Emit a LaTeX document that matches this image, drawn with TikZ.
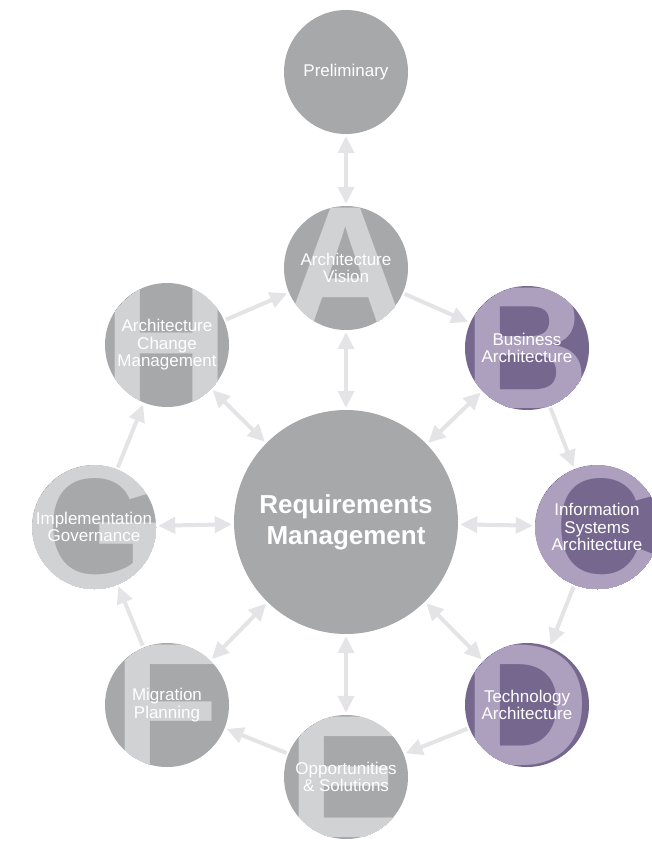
\documentclass[tikz,border=0pt]{standalone}
\usepackage{fontspec}
\setmainfont{Liberation Sans}
\usetikzlibrary{arrows.meta}
\definecolor{dGray}{HTML}{A7A8AA}
\definecolor{lGray}{HTML}{D1D2D4}
\definecolor{dPurple}{HTML}{76678F}
\definecolor{lPurple}{HTML}{ACA0BE}
\definecolor{aGray}{HTML}{E4E4E6}
\tikzset{
    disc/.style={
            circle,
            fill={#1},
            inner sep=0pt, % no inside-rectangle
            minimum size=124pt
        },
    disc/.default={dGray},
    bigletter/.style={
            text={#1},
            inner sep=0pt,
            font=\fontsize{175}{175}\selectfont\bfseries
        },
    bigletter/.default={lGray},
    phasetext/.style={
            text=white,
            align=center,
            inner sep=0pt,
            font=\fontsize{17}{17.5}\selectfont
        },
    hub/.style={
            circle,
            fill=dGray,
            inner sep=0pt,
            minimum size=224pt,
            text=white,
            align=center,
            font=\fontsize{26}{31}\selectfont\bfseries
        },
    link/.style={
            draw=aGray,
            line width=4pt,
            shorten >=2pt,
            shorten <=2pt,
            -{Triangle[length=17pt,width=16pt]}
        },
    both/.style={
            link,
            {Triangle[length=17pt,width=16pt]}-{Triangle[length=17pt,width=16pt]}
        }
}
% name, position, fill, letter colour, letter, text
\newcommand{\phase}[6]{%
    \node[disc=#3] (#1) at #2 {};
    \begin{scope}
        \clip (#1.center) circle[radius=62pt];
        \node[bigletter=#4] (#1-letter) at (#1.center) {#5};
    \end{scope}
    \node[phasetext] (#1-text) at (#1.center) {#6};
}

\begin{document}
\begin{tikzpicture}[
        x=1pt,
        y=-1pt,
    ]
    \useasboundingbox (0,0) rectangle (651,843);
    % preliminary and hub
    \node[disc, text=white, font=\fontsize{17}{17.5}\selectfont] (pre) at (346,72) {Preliminary};
    \node[hub] (req) at (346,522) {Requirements\\Management};
    % the eight phases
    \phase{A}{(346,268)}{dGray}{lGray}{A}{Architecture\\Vision}
    \phase{B}{(527,348)}{dPurple}{lPurple}{B}{Business\\Architecture}
    \phase{C}{(597,527)}{dPurple}{lPurple}{\fontsize{200}{200}\selectfont C}{Information\\Systems\\Architecture}
    \phase{D}{(527,705)}{dPurple}{lPurple}{D}{Technology\\Architecture}
    \phase{E}{(346,777)}{dGray}{lGray}{E}{Opportunities\\\& Solutions}
    \phase{F}{(167,705)}{dGray}{lGray}{F}{Migration\\Planning}
    \phase{G}{(94,527)}{dGray}{lGray}{\fontsize{200}{200}\selectfont G}{Implementation\\Governance}
    \phase{H}{(167,345)}{dGray}{lGray}{H}{Architecture\\Change\\Management}
    % cycle
    \draw[link] (A) -- (B);
    \draw[link] (B) -- (C);
    \draw[link] (C) -- (D);
    \draw[link] (D) -- (E);
    \draw[link] (E) -- (F);
    \draw[link] (F) -- (G);
    \draw[link] (G) -- (H);
    \draw[link] (H) -- (A);
    % spokes
    \draw[both] (pre) -- (A);
    \foreach \p in {A,B,C,D,E,F,G,H}
        \draw[both] (req) -- (\p);
\end{tikzpicture}
\end{document}
